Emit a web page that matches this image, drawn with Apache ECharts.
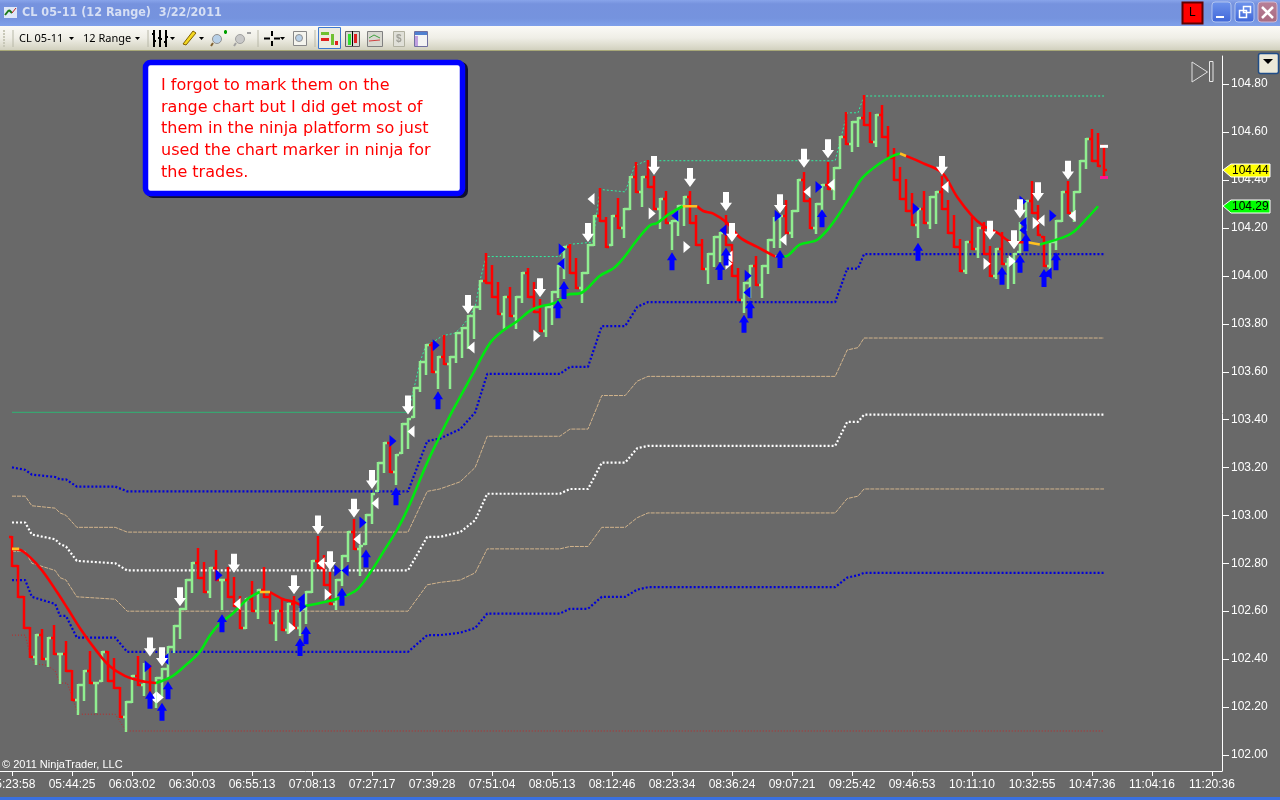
<!DOCTYPE html>
<html><head><meta charset="utf-8">
<style>html,body{margin:0;padding:0;background:#696969;overflow:hidden}#c{width:1280px;height:800px}</style>
<script src="https://cdn.jsdelivr.net/npm/echarts@6/dist/echarts.min.js"></script>
</head><body><div id="c"></div>
<script>
const timeLabels=['05:23:58','05:44:25','06:03:02','06:30:03','06:55:13','07:08:13','07:27:17','07:39:28','07:51:04','08:05:13','08:12:46','08:23:34','08:36:24','09:07:21','09:25:42','09:46:53','10:11:10','10:32:55','10:47:36','11:04:16','11:20:36'];
const priceTicks=[102,102.2,102.4,102.6,102.8,103,103.2,103.4,103.6,103.8,104,104.2,104.4,104.6,104.8];
const barHigh=[102.91,102.79,102.66,102.53,102.50,102.52,102.49,102.54,102.42,102.47,102.35,102.29,102.35,102.43,102.30,102.43,102.43,102.40,102.28,102.22,102.33,102.41,102.38,102.37,102.32,102.36,102.45,102.54,102.61,102.73,102.80,102.86,102.80,102.78,102.85,102.73,102.78,102.74,102.66,102.65,102.72,102.69,102.78,102.67,102.60,102.65,102.63,102.66,102.61,102.68,102.81,102.91,102.83,102.76,102.73,102.83,102.93,102.98,102.87,103.00,103.09,103.22,103.30,103.30,103.25,103.38,103.40,103.53,103.64,103.71,103.72,103.66,103.75,103.66,103.76,103.78,103.83,103.87,103.98,104.09,104.04,103.97,103.91,103.95,103.91,104.01,104.03,103.97,103.90,103.87,103.93,104.04,104.12,104.13,104.07,104.01,104.13,104.25,104.36,104.24,104.25,104.32,104.28,104.41,104.47,104.41,104.48,104.41,104.32,104.35,104.23,104.29,104.33,104.35,104.25,104.15,104.09,104.16,104.18,104.25,104.13,104.03,103.97,104.04,104.08,104.04,104.15,104.24,104.25,104.31,104.27,104.40,104.43,104.32,104.30,104.38,104.47,104.45,104.58,104.68,104.64,104.66,104.75,104.68,104.67,104.71,104.62,104.53,104.45,104.40,104.34,104.28,104.35,104.33,104.35,104.41,104.31,104.25,104.15,104.14,104.24,104.20,104.22,104.12,104.11,104.18,104.07,104.09,104.22,104.31,104.39,104.29,104.16,104.14,104.23,104.35,104.39,104.35,104.48,104.57,104.61,104.59,104.54];
const barLow=[102.79,102.66,102.53,102.41,102.38,102.40,102.37,102.42,102.30,102.35,102.23,102.17,102.23,102.30,102.18,102.31,102.31,102.28,102.16,102.10,102.22,102.29,102.25,102.24,102.20,102.24,102.32,102.43,102.49,102.61,102.68,102.74,102.68,102.66,102.73,102.61,102.66,102.62,102.53,102.53,102.60,102.57,102.66,102.55,102.48,102.52,102.51,102.53,102.50,102.55,102.68,102.78,102.71,102.63,102.61,102.71,102.81,102.86,102.75,102.88,102.97,103.10,103.18,103.18,103.13,103.26,103.28,103.41,103.52,103.59,103.60,103.53,103.63,103.53,103.64,103.66,103.70,103.74,103.86,103.97,103.91,103.84,103.78,103.83,103.78,103.89,103.91,103.85,103.77,103.75,103.80,103.91,103.99,104.01,103.95,103.89,104.01,104.13,104.23,104.12,104.13,104.20,104.16,104.28,104.35,104.29,104.37,104.28,104.20,104.22,104.11,104.17,104.21,104.22,104.13,104.03,103.97,104.04,104.06,104.13,104.00,103.90,103.85,103.91,103.96,103.91,104.01,104.12,104.12,104.18,104.16,104.27,104.31,104.20,104.18,104.26,104.36,104.32,104.45,104.55,104.52,104.54,104.63,104.56,104.54,104.58,104.49,104.40,104.32,104.27,104.21,104.16,104.22,104.20,104.22,104.28,104.18,104.12,104.02,104.01,104.11,104.08,104.09,104.00,103.99,104.05,103.95,103.97,104.10,104.19,104.26,104.17,104.04,104.02,104.11,104.23,104.26,104.23,104.35,104.45,104.48,104.46,104.41];
const barClose=[102.79,102.66,102.53,102.41,102.50,102.40,102.49,102.42,102.42,102.35,102.23,102.29,102.35,102.30,102.30,102.43,102.31,102.28,102.16,102.22,102.33,102.29,102.38,102.24,102.32,102.36,102.45,102.54,102.61,102.73,102.80,102.74,102.68,102.78,102.73,102.73,102.66,102.62,102.53,102.65,102.60,102.69,102.66,102.55,102.60,102.52,102.63,102.53,102.61,102.68,102.81,102.78,102.71,102.63,102.73,102.83,102.93,102.86,102.87,103.00,103.09,103.22,103.30,103.18,103.25,103.38,103.40,103.53,103.64,103.71,103.60,103.66,103.63,103.66,103.76,103.78,103.83,103.87,103.98,103.97,103.91,103.84,103.91,103.83,103.91,104.01,103.91,103.85,103.77,103.87,103.93,104.04,104.12,104.01,103.95,104.01,104.13,104.25,104.23,104.12,104.25,104.20,104.28,104.41,104.35,104.41,104.37,104.28,104.32,104.22,104.23,104.29,104.33,104.22,104.13,104.03,104.09,104.16,104.18,104.13,104.00,103.90,103.97,104.04,103.96,104.04,104.15,104.24,104.25,104.18,104.27,104.40,104.31,104.20,104.30,104.38,104.36,104.45,104.58,104.55,104.64,104.66,104.63,104.56,104.67,104.58,104.49,104.40,104.32,104.27,104.21,104.28,104.22,104.33,104.35,104.28,104.18,104.12,104.02,104.14,104.11,104.20,104.09,104.00,104.11,104.05,104.07,104.09,104.22,104.31,104.26,104.17,104.04,104.14,104.23,104.35,104.26,104.35,104.48,104.57,104.48,104.46,104.44];
const barOpen=[102.91,102.79,102.66,102.53,102.41,102.50,102.40,102.49,102.42,102.42,102.35,102.23,102.29,102.35,102.30,102.30,102.43,102.31,102.28,102.16,102.22,102.33,102.29,102.38,102.24,102.32,102.36,102.45,102.54,102.61,102.73,102.80,102.74,102.68,102.78,102.73,102.73,102.66,102.62,102.53,102.65,102.60,102.69,102.66,102.55,102.60,102.52,102.63,102.53,102.61,102.68,102.81,102.78,102.71,102.63,102.73,102.83,102.93,102.86,102.87,103.00,103.09,103.22,103.30,103.18,103.25,103.38,103.40,103.53,103.64,103.71,103.60,103.66,103.63,103.66,103.76,103.78,103.83,103.87,103.98,103.97,103.91,103.84,103.91,103.83,103.91,104.01,103.91,103.85,103.77,103.87,103.93,104.04,104.12,104.01,103.95,104.01,104.13,104.25,104.23,104.12,104.25,104.20,104.28,104.41,104.35,104.41,104.37,104.28,104.32,104.22,104.23,104.29,104.33,104.22,104.13,104.03,104.09,104.16,104.18,104.13,104.00,103.90,103.97,104.04,103.96,104.04,104.15,104.24,104.25,104.18,104.27,104.40,104.31,104.20,104.30,104.38,104.36,104.45,104.58,104.55,104.64,104.66,104.63,104.56,104.67,104.58,104.49,104.40,104.32,104.27,104.21,104.28,104.22,104.33,104.35,104.28,104.18,104.12,104.02,104.14,104.11,104.20,104.09,104.00,104.11,104.05,104.07,104.09,104.22,104.31,104.26,104.17,104.04,104.14,104.23,104.35,104.26,104.35,104.48,104.57,104.48,104.54];

const bandX=[0,2.2,3.3,7.2,8,9,10.8,17.2,19.2,66,69.2,71.3,74.7,77.2,79.2,91.3,93,96,98.3,102.2,104.2,106,137.2,139.2,141,142,182];
const bandBlueUpper=[103.20,103.19,103.17,103.16,103.15,103.15,103.12,103.12,103.10,103.10,103.31,103.32,103.36,103.43,103.59,103.59,103.62,103.62,103.79,103.79,103.87,103.89,103.89,104.03,104.03,104.09,104.09];
const bandTanUpper=[103.08,103.08,103.04,103.03,103.01,103.00,102.95,102.95,102.93,102.93,103.10,103.11,103.14,103.20,103.33,103.33,103.36,103.36,103.50,103.50,103.56,103.58,103.58,103.69,103.70,103.74,103.74];
const bandWhiteMid=[102.97,102.97,102.92,102.90,102.88,102.87,102.81,102.80,102.77,102.77,102.91,102.91,102.93,102.98,103.09,103.09,103.11,103.11,103.22,103.22,103.28,103.29,103.29,103.39,103.39,103.42,103.42];
const bandTanLower=[102.85,102.85,102.80,102.77,102.74,102.73,102.66,102.65,102.60,102.60,102.71,102.72,102.73,102.76,102.86,102.86,102.87,102.87,102.95,102.95,102.99,103.01,103.01,103.07,103.08,103.11,103.11];
const bandBlueLower=[102.73,102.73,102.66,102.63,102.58,102.58,102.49,102.49,102.43,102.43,102.50,102.50,102.51,102.53,102.59,102.59,102.61,102.61,102.66,102.66,102.69,102.70,102.70,102.74,102.75,102.76,102.76];

const maRedParts=[
 [[0,102.86],[1.8,102.85],[4.7,102.78],[7.5,102.68],[9.3,102.61],[11.3,102.53],[14.2,102.43],[16.3,102.37],[18.8,102.33],[21.3,102.31],[24,102.30]],
 [[43,102.68],[45.2,102.65],[46.8,102.64],[48.5,102.62]],
 [[114.2,104.29],[115.2,104.27],[116.8,104.26],[119.2,104.22],[121.3,104.16],[124.2,104.12],[127.2,104.08]],
 [[149,104.50],[151.8,104.47],[155,104.43],[157.5,104.33],[160,104.25],[161.8,104.21],[164.2,104.18],[166.8,104.14],[169.2,104.14]]
];
const maGreenParts=[
 [[24,102.30],[26.8,102.33],[29.2,102.38],[31.3,102.43],[33,102.50],[34.7,102.55],[36.8,102.59],[39.2,102.65],[41.3,102.68]],
 [[48.5,102.62],[52.5,102.64],[55.2,102.66],[57.5,102.69],[59.7,102.76],[62.2,102.86],[64.2,102.94],[66,103.03],[69.2,103.22],[71.3,103.33],[73.5,103.44],[76.8,103.59],[79.7,103.72],[81.8,103.77],[84.2,103.81],[86.8,103.86],[90.8,103.89],[92.5,103.92],[95,103.93],[98,104.00],[100.2,104.03],[101.8,104.07],[104.2,104.15],[106.3,104.21],[107.5,104.22],[109.7,104.26],[111.8,104.29]],
 [[128,104.08],[128.8,104.08],[131.3,104.13],[134.2,104.15],[136.8,104.22],[139.7,104.33],[141.8,104.41],[144.7,104.47],[146.8,104.50],[148,104.51]],
 [[171.3,104.13],[175.2,104.16],[176.8,104.18],[179.2,104.24],[181,104.29]]
];
const maYellowParts=[
 [[0,102.86],[1.2,102.86]],[[41.3,102.68],[43,102.68]],[[111.8,104.29],[114.2,104.29]],[[127.2,104.08],[128,104.08]],[[148,104.51],[149,104.50]],[[169.2,104.14],[171.3,104.13]]
];
const channelSolid=[[0,103.43],[66,103.43]];
const channelHigh=[[66,103.43],[67,103.53],[68,103.64],[69,103.71],[70,103.72],[71.8,103.75],[73.8,103.76],[74.7,103.78],[76,103.82],[77.2,103.87],[78,103.98],[79,104.08],[91.3,104.08],[92.5,104.13],[96.8,104.14],[98,104.36],[102.2,104.35],[103.8,104.46],[105.8,104.48],[137.2,104.48],[139.2,104.68],[141,104.68],[142,104.75],[182,104.75]];
const channelLow=[[0,102.50],[2.2,102.50],[3,102.42],[3.8,102.38],[5.8,102.375],[7.2,102.35],[8,102.30],[9.2,102.30],[10.2,102.23],[11,102.17],[17.2,102.17],[19,102.10],[182,102.10]];

const arrowsDown=[[23,102.45],[25,102.41],[28,102.66],[37,102.80],[47,102.71],[51,102.96],[53,102.81],[57,103.03],[60,103.15],[66,103.46],[76,103.88],[88,103.95],[96,104.18],[107,104.46],[113,104.41],[119,104.31],[120,104.18],[128,104.30],[132,104.49],[136,104.53],[155,104.46],[163,104.19],[167,104.15],[168,104.28],[171,104.35],[176,104.44]];
const arrowsUp=[[23,102.23],[25,102.18],[26,102.27],[35,102.55],[48,102.45],[49,102.50],[55,102.66],[59,102.82],[64,103.08],[71,103.48],[91,103.86],[92,103.94],[110,104.06],[118,104.02],[119,104.08],[122,103.80],[123,103.86],[128,104.07],[135,104.24],[151,104.10],[165,104.00],[168,104.05],[169,104.14],[172,103.99],[174,104.06]];
const whiteLeft=[[23.5,102.24],[37.5,102.63],[51.5,102.80],[57.5,102.90],[60.5,103.05],[66.5,103.35],[76.5,103.70],[96.5,104.32],[119.5,104.08],[128.5,104.15],[132.5,104.35],[136.5,104.38],[155.5,104.37],[171.5,104.23],[176.7,104.25]];
const whiteRight=[[24.7,102.24],[46.7,102.53],[52.7,102.67],[87.5,103.75],[106.7,104.26],[112.5,104.12],[119.5,104.05],[162.5,104.05],[166.7,104.06],[170.7,104.22]];
const blueRight=[[22.7,102.37],[34.5,102.75],[48.5,102.62],[54.3,102.77],[58.5,102.97],[63.5,103.31],[70.7,103.71],[91.7,104.11],[122.7,104.00],[127.7,104.25],[134.5,104.37],[150.7,104.28],[168.5,104.31],[173.5,104.25]];
const blueLeft=[[25.5,102.40],[48.2,102.65],[55.5,102.77],[91.5,104.05],[110.5,104.25],[118.5,104.19],[122.5,103.93],[168.5,104.22],[168.5,104.19],[172.7,104.01]];
const lastBarHigh=[[182,104.54]];
const lastBarLow=[[182,104.41]];
const priceTags=[{v:104.44,bg:'#ffff00'},{v:104.29,bg:'#00ff00'}];
const titleText='CL 05-11 (12 Range)  3/22/2011';
const instrumentText='CL 05-11';
const periodText='12 Range';
const copyrightText='\u00a9 2011 NinjaTrader, LLC';
const calloutLines=['I forgot to mark them on the','range chart but I did get most of','them in the ninja platform so just','used the chart marker in ninja for','the trades.'];

const chart=echarts.init(document.getElementById('c'),null,{renderer:'canvas',width:1280,height:800});
const barRows=barHigh.map((h,i)=>[i,barOpen[i],h,barLow[i],barClose[i]]);
function renderBar(params,api){
  const i=api.value(0),o=api.value(1),h=api.value(2),l=api.value(3),c=api.value(4);
  const up=c>=o&&!(c===l);
  const col=up?'#90ee90':'#ff0000';
  const x=Math.round(api.coord([i,h])[0]);
  const cl=Math.min(h,Math.max(l,o));
  const yy=v=>Math.round(api.coord([i,v])[1]);
  const st={stroke:col,lineWidth:2.5};
  return {type:'group',children:[
    {type:'line',shape:{x1:x,y1:yy(h)-1,x2:x,y2:yy(l)+1},style:st},
    {type:'line',shape:{x1:x-3,y1:yy(cl),x2:x,y2:yy(cl)},style:st},
    {type:'line',shape:{x1:x,y1:yy(c),x2:x+3,y2:yy(c)},style:st}]};
}
const dot=(name,data,color,w)=>({type:'line',name,data,symbol:'none',silent:true,z:3,lineStyle:{color,width:w||2,type:[2,2]},animation:false});
const dash=(name,data,color)=>({type:'line',name,data,symbol:'none',silent:true,z:3,lineStyle:{color,width:1,type:[4,1]},animation:false});
const zip=a=>bandX.map((x,i)=>[x,a[i]]);
const maLine=(data,color)=>({type:'line',data,symbol:'none',silent:true,z:6,smooth:0.35,lineStyle:{color,width:2.6},animation:false});
const mark=(data,path,size,color,z)=>({type:'scatter',data,symbol:path,symbolSize:size,itemStyle:{color,opacity:1},silent:true,z:z||8,animation:false});
const DOWN='path://M2.5 0L7.5 0L7.5 9L10 9L5 16L0 9L2.5 9Z';
const UP='path://M5 0L10 7L7.5 7L7.5 16L2.5 16L2.5 7L0 7Z';
const TL='path://M10 0L10 10L0 5Z',TR='path://M0 0L10 5L0 10Z',RECT='rect';

const series=[
 dash('tanU',zip(bandTanUpper),'#d2b48c'),
 dash('tanL',zip(bandTanLower),'#d2b48c'),
 dot('blueU',zip(bandBlueUpper),'#0000d8',2.2),
 dot('white',zip(bandWhiteMid),'#ffffff',2.2),
 dot('blueL',zip(bandBlueLower),'#0000d8',2.2),
 {type:'line',data:channelSolid,symbol:'none',silent:true,z:3,lineStyle:{color:'#2fb373',width:1},animation:false},
 {type:'line',data:channelHigh,symbol:'none',silent:true,z:3,lineStyle:{color:'#30f0a0',width:1,type:[2,2]},animation:false},
 {type:'line',data:channelLow,symbol:'none',silent:true,z:3,lineStyle:{color:'#c02828',width:1,type:[1,2]},animation:false},
 {type:'custom',data:barRows,renderItem:renderBar,encode:{x:0,y:[1,2,3,4]},silent:true,z:5,animation:false},
 ...maRedParts.map(d=>maLine(d,'#ff0000')),
 ...maGreenParts.map(d=>maLine(d,'#00e810')),
 ...maYellowParts.map(d=>maLine(d,'#ffc020')),
 mark(whiteLeft,TL,[7,12],'#ffffff'),
 mark(whiteRight,TR,[7,12],'#ffffff'),
 mark(blueLeft,TL,[7,12],'#0000ff'),
 mark(blueRight,TR,[7,12],'#0000ff'),
 mark(arrowsDown,DOWN,[12,19],'#ffffff',9),
 mark(arrowsUp,UP,[10,18],'#0000ff',9),
 mark(lastBarHigh,RECT,[8,3],'#ffffff',9),
 mark(lastBarLow,RECT,[8,3],'#ff1493',9),
 {type:'custom',data:priceTicks.map(v=>[v]),encode:{y:0},clip:false,silent:true,z:15,animation:false,
  renderItem(p,api){
    const y=Math.round(api.coord([0,api.value(0)])[1])+.5;
    return {type:'line',shape:{x1:1222,y1:y,x2:1229,y2:y},style:{stroke:'#fff',lineWidth:1}};
  }},
 {type:'custom',data:timeLabels.map((_,i)=>[i*10]),encode:{x:0},clip:false,silent:true,z:15,animation:false,
  renderItem(p,api){
    const x=Math.round(api.coord([api.value(0),102])[0])+.5;
    return {type:'line',shape:{x1:x,y1:771,x2:x,y2:776},style:{stroke:'#fff',lineWidth:1}};
  }},
 {type:'custom',data:priceTags.map(t=>[t.v]),encode:{y:0},clip:false,silent:true,z:20,animation:false,
  renderItem(p,api){
    const t=priceTags[p.dataIndex];
    const y=Math.round(api.coord([0,api.value(0)])[1]);
    return {type:'group',children:[
      {type:'polygon',shape:{points:[[1223,y],[1231,y-6],[1270,y-6],[1270,y+7],[1231,y+7]]},style:{fill:t.bg,stroke:'#ffffff',lineWidth:1}},
      {type:'text',style:{x:1232,y:y+1,text:t.v.toFixed(2),fill:'#000',font:'12px "Liberation Sans"',textVerticalAlign:'middle'}}]};
  }}
];

// window chrome, callout, icons
const g=[];
const R=(x,y,w,h,fill,extra)=>g.push(Object.assign({type:'rect',shape:{x,y,width:w,height:h,r:(extra&&extra.r)||0},style:Object.assign({fill},extra&&extra.style),z:100,silent:true},extra&&extra.top));
const L=(x1,y1,x2,y2,c,w)=>g.push({type:'line',shape:{x1,y1,x2,y2},style:{stroke:c,lineWidth:w||1},z:101,silent:true});
const T=(x,y,text,fill,font,extra)=>g.push({type:'text',style:Object.assign({x,y,text,fill,font,textVerticalAlign:'middle'},extra),z:102,silent:true});
const P=(pts,fill,stroke,z)=>g.push({type:'polygon',shape:{points:pts},style:{fill:fill||'none',stroke:stroke||'none',lineWidth:1},z:z||101,silent:true});
const grad=(stops)=>new echarts.graphic.LinearGradient(0,0,0,1,stops.map((c,i)=>({offset:c[0],color:c[1]})));
R(0,0,1280,26,grad([[0,'#88a4ea'],[.15,'#7692de'],[.7,'#7593de'],[1,'#7fa0ea']]));
T(22,13,titleText,'#d6dff4','bold 12.5px "DejaVu Sans Condensed","DejaVu Sans"');
R(4,7,13,11,'#dfe8f8');L(5,15,9,10,'#1a7a1a',2);L(9,10,12,13,'#1a7a1a',2);L(12,13,16,8,'#c02020',1);
R(1182.5,2.5,20,21,'#ff0000',{style:{stroke:'#600000',lineWidth:2}});T(1189,13,'L','#000','12px "Liberation Sans"');
const wbtn=(x,c)=>R(x,2,19,20,grad([[0,'#6f94ec'],[1,'#3f66d8']]),{r:3,style:{stroke:'#b0c4f0',lineWidth:1}});
wbtn(1212);wbtn(1235);
R(1258,2,19,20,grad([[0,'#b88098'],[1,'#a86a80']]),{r:3,style:{stroke:'#d0b8d0',lineWidth:1}});
L(1216,17,1224,17,'#fff',2);
R(1239.5,10.5,7,7,'none',{style:{stroke:'#fff',lineWidth:1.5}});R(1243.5,6.5,7,6,'none',{style:{stroke:'#fff',lineWidth:1.5}});
L(1262,7,1273,18,'#fff',2.5);L(1273,7,1262,18,'#fff',2.5);
R(0,26,1280,24,grad([[0,'#fbfaf6'],[.5,'#efeee6'],[1,'#d2d1bf']]));
L(0,50.5,1280,50.5,'#a8a878',1);
R(0,797,1280,3,'#3a70e0');
for(let y=30;y<46;y+=3)R(3,y,2,2,'#c8c8b8');
L(13,30,13,47,'#b8b8a8');L(148,30,148,47,'#b8b8a8');L(258,30,258,47,'#b8b8a8');L(315,30,315,47,'#b8b8a8');
T(19,38.5,instrumentText,'#000','11px "Noto Sans"');P([[69,37],[74,37],[71.5,40]],'#000');
T(83,38.5,periodText,'#000','11px "Noto Sans"');P([[135,37],[140,37],[137.5,40]],'#000');
[154,160,166].forEach((x,k)=>{L(x,30,x,47,'#000',2);L(x-2,34+k*4,x,34+k*4,'#000',2);L(x,41-k*2,x+2,41-k*2,'#000',2);});
P([[170,37],[175,37],[172.5,40]],'#000');
P([[183,44],[186,45],[196,33],[193,31]],'#f4d820','#806000');P([[199,37],[204,37],[201.5,40]],'#000');
g.push({type:'circle',shape:{cx:217,cy:39,r:4.5},style:{fill:'#b8d0e8',stroke:'#909090'},z:101,silent:true});L(213,43,211,46,'#806030',2);L(224,32,227,32,'#00a000',2);L(225.5,30,225.5,34,'#00a000',2);
g.push({type:'circle',shape:{cx:240,cy:39,r:4.5},style:{fill:'#c8c8c8',stroke:'#a0a0a0'},z:101,silent:true});L(236,43,234,46,'#a0a0a0',2);L(247,33,251,33,'#a0a0a0',2);
L(264,38.5,270,38.5,'#000',2);L(274,38.5,280,38.5,'#000',2);L(272,31,272,36,'#000',2);L(272,41,272,46,'#000',2);P([[280,37],[285,37],[282.5,40]],'#000');
R(293.5,31.5,13,14,'#f4f4ee',{style:{stroke:'#888',lineWidth:1}});g.push({type:'circle',shape:{cx:299,cy:38,r:3.5},style:{fill:'#b8d0e8',stroke:'#909090'},z:102,silent:true});
R(318.5,27.5,22,21,'#ecebe0',{style:{stroke:'#3c78d0',lineWidth:1}});R(321,32,8,3,'#70c030');R(321,38,8,3,'#e02020');R(331,34,3,11,'#70c030');R(335,41,3,4,'#e02020');
R(345.5,31.5,14,15,'#d8d8d0',{style:{stroke:'#606060',lineWidth:1}});R(348,34,3,11,'#30e030');R(354,34,3,9,'#e02020');L(352.5,31,352.5,46,'#000');
R(367.5,31.5,15,15,'#d8d8d0',{style:{stroke:'#808080',lineWidth:1}});L(369,38,374,35,'#40a040');L(374,35,380,38,'#40a040');L(369,41,380,40,'#d04040');
R(393.5,31.5,11,15,'#e0e0d8',{style:{stroke:'#b0b0a0',lineWidth:1}});T(396,39,'$','#a0a098','bold 10px "Liberation Sans"');
R(414.5,31.5,13,15,'#f4f4f4',{style:{stroke:'#7070a0',lineWidth:1}});R(415,32,12,3,'#5080d0');R(415,36,3,10,'#c0a0e0');
// chart overlays
R(1258.5,53.5,20,20,'#ece9d8',{r:2,style:{stroke:'#1f4d88',lineWidth:1.5}});P([[1263,59],[1273,59],[1268,64]],'#000');
P([[1192,62],[1207.5,72],[1192,82]],null,'#e0e0e0');R(1209.5,61.5,3.5,20,'none',{style:{stroke:'#e8e8e8',lineWidth:1}});
T(2,765,copyrightText,'#ffffff','11px "Liberation Sans"');
// callout
R(146,62,322,136,'#101030',{r:7});
R(145.5,62.5,317,131,'#ffffff',{r:5,style:{stroke:'#0000ff',lineWidth:5.5}});
calloutLines.forEach((t,k)=>T(161,86+k*21.6,t,'#ff0000','16px "DejaVu Sans"'));

chart.setOption({
 animation:false,
 backgroundColor:'#696969',
 grid:{left:0,right:58,top:56,bottom:29,containLabel:false,outerBoundsMode:'none'},
 xAxis:{type:'value',min:-2,max:201.667,splitLine:{show:false},
   axisLine:{show:true,onZero:false,lineStyle:{color:'#fff',width:1}},
   axisTick:{show:false},
   axisLabel:{color:'#fff',fontSize:12,fontFamily:'"Liberation Sans"',margin:8,customValues:timeLabels.map((_,i)=>i*10),formatter:v=>timeLabels[Math.round(v/10)]||''}},
 yAxis:{type:'value',position:'right',min:101.933,max:104.917,splitLine:{show:false},
   axisLine:{show:true,onZero:false,lineStyle:{color:'#fff',width:1}},
   axisTick:{show:false},
   axisLabel:{color:'#fff',fontSize:12,fontFamily:'"Liberation Sans"',margin:9,padding:[3,0,0,0],customValues:priceTicks,formatter:v=>v.toFixed(2)}},
 series,
 graphic:{elements:g}
});
</script></body></html>
